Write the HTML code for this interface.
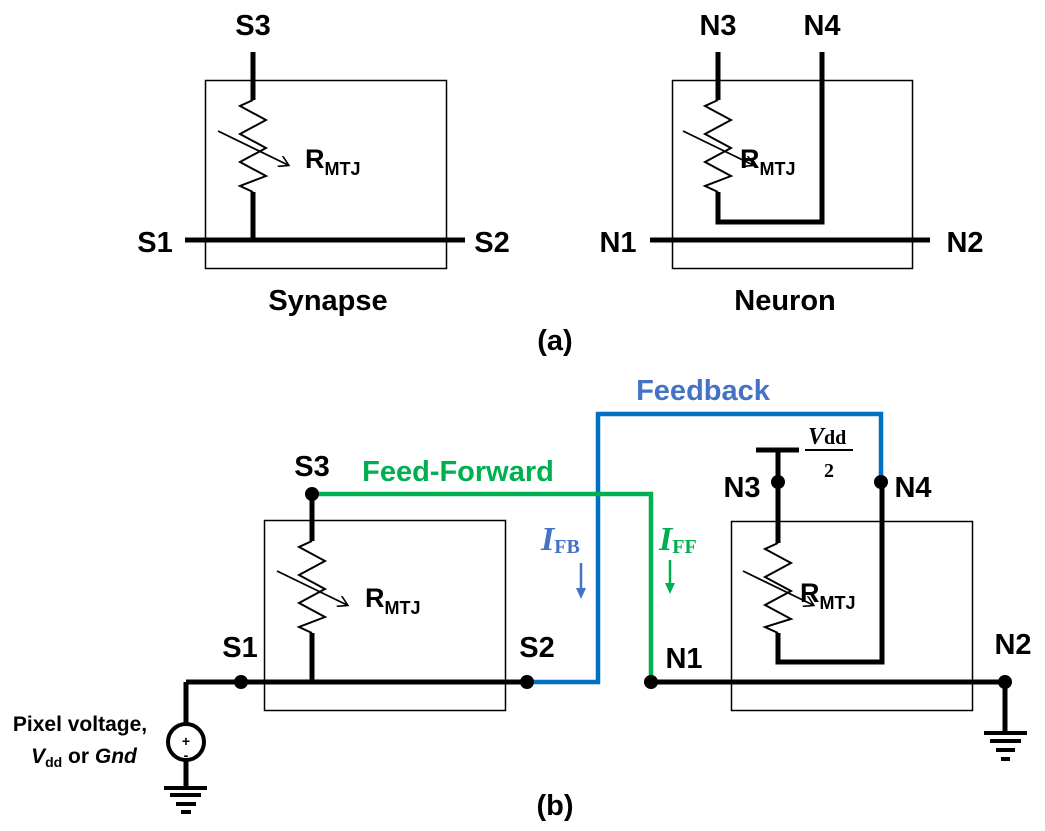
<!DOCTYPE html>
<html><head><meta charset="utf-8"><style>
body{margin:0;background:#fff}
svg{display:block}
text{font-family:"Liberation Sans",sans-serif;font-weight:bold}
</style></head><body>
<svg width="1045" height="831" viewBox="0 0 1045 831" xmlns="http://www.w3.org/2000/svg">
<defs>
<marker id="ah" markerWidth="12" markerHeight="12" refX="9" refY="6" orient="auto" markerUnits="userSpaceOnUse"><path d="M0,0 L10,6 L0,12" fill="none" stroke="#000" stroke-width="1.6"/></marker>
</defs>
<g fill="none" stroke="#000">
<rect x="205.5" y="80.5" width="241" height="188" stroke-width="1.5"/>
<path d="M253,52 V100 M253,192 V240 M185,240 H465" stroke-width="5"/>
<polyline points="253,100 240,106 266,120 240,134 266,148 240,162 266,176 240,186 253,192" stroke-width="2"/>
<line x1="218" y1="131" x2="288" y2="165" stroke-width="1.8" marker-end="url(#ah)"/>
<rect x="672.5" y="80.5" width="240" height="188" stroke-width="1.5"/>
<path d="M718,52 V100 M718,192 V222 H822 V52 M650,240 H930" stroke-width="5"/>
<polyline points="718,100 705,106 731,120 705,134 731,148 705,162 731,176 705,186 718,192" stroke-width="2"/>
<line x1="683" y1="131" x2="753" y2="165" stroke-width="1.8" marker-end="url(#ah)"/>
<rect x="264.5" y="520.5" width="241" height="190" stroke-width="1.5"/>
<rect x="731.5" y="521.5" width="241" height="189" stroke-width="1.5"/>
</g>
<path d="M527,682 H598 V414 H881 V482" fill="none" stroke="#0070C0" stroke-width="4.5"/>
<path d="M312,494 H651 V682" fill="none" stroke="#00B050" stroke-width="4.5"/>
<g fill="none" stroke="#000">
<path d="M312,494 V541 M312,633 V682 M186,682 H527 M186,682 V723 M186,761 V788" stroke-width="5"/>
<polyline points="312,541 299,547 325,561 299,575 325,589 299,603 325,617 299,627 312,633" stroke-width="2"/>
<line x1="277" y1="571" x2="347" y2="605" stroke-width="1.8" marker-end="url(#ah)"/>
<circle cx="186" cy="742" r="18" stroke-width="4"/>
<path d="M164,788 H207 M170,795 H201 M176,804 H196 M181,812 H191" stroke-width="4"/>
<path d="M756,450 H799 M778,450 V543 M778,633 V662 H882 V482 M651,682 H1005 M1005,682 V733" stroke-width="5"/>
<polyline points="778,543 765,549 791,563 765,577 791,591 765,605 791,619 765,627 778,633" stroke-width="2"/>
<line x1="743" y1="571" x2="813" y2="605" stroke-width="1.8" marker-end="url(#ah)"/>
<path d="M984,733 H1027 M990,741 H1021 M996,750 H1015 M1001,759 H1010" stroke-width="4"/>
<line x1="805" y1="450" x2="853" y2="450" stroke-width="2"/>
</g>
<g fill="#000">
<circle cx="312" cy="494" r="7"/><circle cx="241" cy="682" r="7"/><circle cx="527" cy="682" r="7"/>
<circle cx="651" cy="682" r="7"/><circle cx="778" cy="482" r="7"/><circle cx="881" cy="482" r="7"/><circle cx="1005" cy="682" r="7"/>
</g>
<path d="M581,563 V590" stroke="#4472C4" stroke-width="2.5"/><path d="M576,588 L581,599 L586,588Z" fill="#4472C4"/>
<path d="M670,560 V585" stroke="#00B050" stroke-width="2.5"/><path d="M665,583 L670,594 L675,583Z" fill="#00B050"/>
<g font-size="29" text-anchor="middle" fill="#000">
<text x="253" y="35">S3</text><text x="155" y="252">S1</text><text x="492" y="252">S2</text>
<text x="718" y="35">N3</text><text x="822" y="35">N4</text><text x="618" y="252">N1</text><text x="965" y="252">N2</text>
<text x="328" y="310">Synapse</text><text x="785" y="310">Neuron</text><text x="555" y="350">(a)</text>
<text x="312" y="476">S3</text><text x="240" y="657">S1</text><text x="537" y="657">S2</text>
<text x="684" y="668">N1</text><text x="742" y="497">N3</text><text x="913" y="497">N4</text><text x="1013" y="654">N2</text>
<text x="555" y="815">(b)</text>
</g>
<g font-size="27" fill="#000">
<text x="305" y="168">R<tspan font-size="18" dy="7">MTJ</tspan></text>
<text x="740" y="168">R<tspan font-size="18" dy="7">MTJ</tspan></text>
<text x="365" y="607">R<tspan font-size="18" dy="7">MTJ</tspan></text>
<text x="800" y="602">R<tspan font-size="18" dy="7">MTJ</tspan></text>
</g>
<text x="703" y="400" font-size="29" fill="#4472C4" text-anchor="middle">Feedback</text>
<text x="458" y="481" font-size="29" fill="#00B050" text-anchor="middle">Feed-Forward</text>
<text x="541" y="550" font-size="34" fill="#4472C4" font-style="italic" style="font-family:'Liberation Serif',serif">I<tspan font-size="20" font-style="normal" dy="3">FB</tspan></text>
<text x="659" y="550" font-size="34" fill="#00B050" font-style="italic" style="font-family:'Liberation Serif',serif">I<tspan font-size="20" font-style="normal" dy="3">FF</tspan></text>
<text x="808" y="444" font-size="24" style="font-family:'Liberation Serif',serif"><tspan font-style="italic">V</tspan><tspan font-size="20">dd</tspan></text>
<text x="829" y="477" font-size="20" text-anchor="middle" style="font-family:'Liberation Serif',serif">2</text>
<text x="186" y="746" font-size="14" text-anchor="middle">+</text>
<text x="186" y="760" font-size="14" text-anchor="middle">-</text>
<text x="80" y="731" font-size="21" text-anchor="middle">Pixel voltage,</text>
<text x="84" y="763" font-size="21" text-anchor="middle"><tspan font-style="italic">V</tspan><tspan font-size="14" dy="4">dd</tspan><tspan dy="-4"> or </tspan><tspan font-style="italic">Gnd</tspan></text>
</svg>
</body></html>
